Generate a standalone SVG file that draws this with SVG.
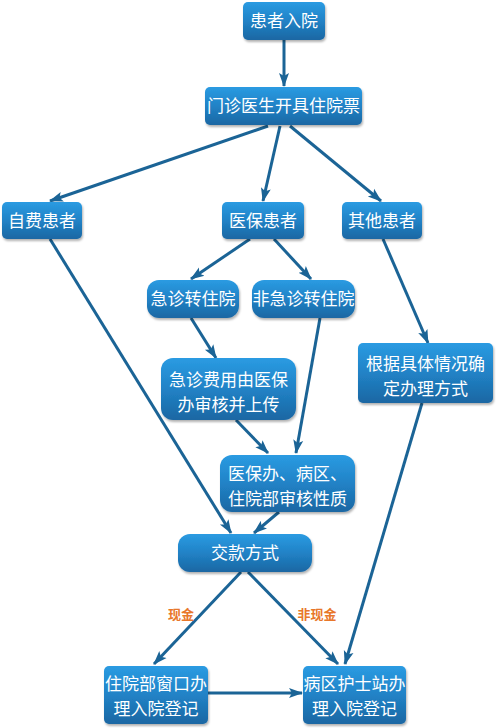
<svg xmlns="http://www.w3.org/2000/svg" width="496" height="728" viewBox="0 0 496 728">
<defs>
<linearGradient id="g" x1="0" y1="0" x2="0" y2="1">
<stop offset="0" stop-color="#2a9be2"/>
<stop offset="0.5" stop-color="#2182c6"/>
<stop offset="1" stop-color="#1a67a3"/>
</linearGradient>
<filter id="sh" x="-10%" y="-10%" width="130%" height="140%">
<feDropShadow dx="1" dy="2" stdDeviation="1.2" flood-color="#000" flood-opacity="0.3"/>
</filter>
<marker id="ah" markerWidth="14" markerHeight="12" refX="13" refY="6" orient="auto" markerUnits="userSpaceOnUse">
<path d="M0,1 L14,6 L0,11 L3,6 Z" fill="#1b6496"/>
</marker>
</defs>
<style>
.n rect{fill:url(#g);filter:url(#sh);}
.n text{fill:#fff;font-family:"Noto Sans CJK SC","Noto Sans CJK JP",sans-serif;font-size:17px;text-anchor:middle;}
#edges line{stroke:#1b6496;stroke-width:3;marker-end:url(#ah);}
.lbl{fill:#e8772a;font-family:"Noto Sans CJK SC",sans-serif;font-size:13px;font-weight:bold;text-anchor:middle;}
</style>
<rect width="496" height="728" fill="#fff"/>
<g id="edges">
<line x1="284" y1="40" x2="284" y2="86"/>
<line x1="268" y1="126" x2="50" y2="201"/>
<line x1="280" y1="126" x2="263" y2="201"/>
<line x1="290" y1="126" x2="381" y2="201"/>
<line x1="50" y1="239" x2="231" y2="533"/>
<line x1="250" y1="239" x2="191" y2="279"/>
<line x1="274" y1="239" x2="311" y2="279"/>
<line x1="191" y1="318" x2="216" y2="358"/>
<line x1="320" y1="318" x2="296" y2="453"/>
<line x1="236" y1="420" x2="268" y2="453"/>
<line x1="279" y1="512" x2="254" y2="533"/>
<line x1="383" y1="239" x2="428" y2="343"/>
<line x1="422" y1="403" x2="345" y2="664"/>
<line x1="241" y1="572" x2="154" y2="664"/>
<line x1="248" y1="572" x2="338" y2="664"/>
<line x1="208" y1="693" x2="302" y2="693"/>
<text class="lbl" x="181" y="619">现金</text>
<text class="lbl" x="317" y="619">非现金</text>
</g>
<g id="n1" class="n"><rect x="243" y="2" width="82" height="38" rx="5"/><text x="284" y="27">患者入院</text></g>
<g id="n2" class="n"><rect x="205" y="87" width="157" height="38" rx="5"/><text x="283.5" y="112">门诊医生开具住院票</text></g>
<g id="n3" class="n"><rect x="2" y="202" width="80" height="37" rx="5"/><text x="42" y="226.5">自费患者</text></g>
<g id="n4" class="n"><rect x="222" y="202" width="82" height="37" rx="5"/><text x="263" y="226.5">医保患者</text></g>
<g id="n5" class="n"><rect x="342" y="202" width="80" height="37" rx="5"/><text x="382" y="226.5">其他患者</text></g>
<g id="n6" class="n"><rect x="147" y="280" width="92" height="38" rx="12"/><text x="193" y="305">急诊转住院</text></g>
<g id="n7" class="n"><rect x="252" y="280" width="103" height="38" rx="12"/><text x="303.5" y="305">非急诊转住院</text></g>
<g id="n8" class="n"><rect x="161" y="358" width="135" height="62" rx="12"/><text x="228.5" y="386">急诊费用由医保</text><text x="228.5" y="411">办审核并上传</text></g>
<g id="n9" class="n"><rect x="358" y="343" width="135" height="60" rx="5"/><text x="425.5" y="370">根据具体情况确</text><text x="425.5" y="395">定办理方式</text></g>
<g id="n10" class="n"><rect x="220" y="455" width="135" height="57" rx="12"/><text x="287.5" y="480">医保办、病区、</text><text x="287.5" y="505">住院部审核性质</text></g>
<g id="n11" class="n"><rect x="178" y="534" width="134" height="38" rx="12"/><text x="245" y="559">交款方式</text></g>
<g id="n12" class="n"><rect x="104" y="666" width="104" height="58" rx="5"/><text x="156" y="690">住院部窗口办</text><text x="156" y="715">理入院登记</text></g>
<g id="n13" class="n"><rect x="303" y="666" width="103" height="58" rx="5"/><text x="354.5" y="690">病区护士站办</text><text x="354.5" y="715">理入院登记</text></g>
</svg>
